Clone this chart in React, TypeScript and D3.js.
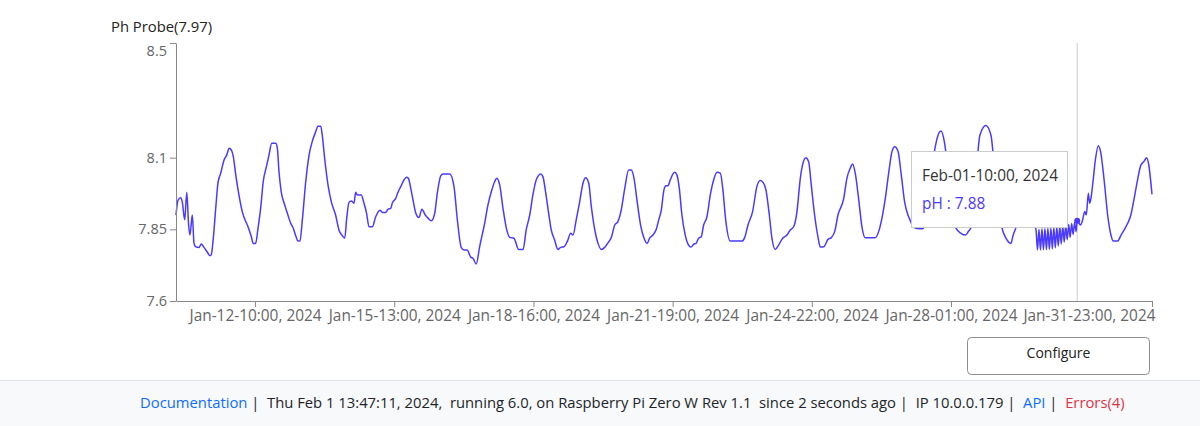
import React, { useEffect, useRef } from 'react';
import * as d3 from 'd3';

// hours since the first reading (Jan-10 ~15:30) and the pH read at that time
const readingHours = [
  0.0, 1.1, 2.5, 3.4, 4.7, 5.8, 6.8, 7.5, 8.8, 9.7, 10.6, 12.4, 13.6, 15.1, 16.9, 18.3, 19.0, 20.1, 21.4, 22.6,
  24.1, 25.9, 27.3, 28.7, 29.8, 30.9, 32.2, 33.9, 35.7, 37.6, 38.8, 40.6, 41.6, 42.9, 44.2, 45.6, 47.0, 48.9, 50.1, 51.6,
  53.7, 54.6, 55.5, 56.7, 58.6, 60.3, 61.8, 63.2, 64.7, 65.7, 66.8, 68.0, 69.9, 71.7, 73.4, 75.3, 76.5, 78.0, 78.8, 80.1,
  81.9, 83.7, 86.0, 87.8, 89.6, 90.9, 92.0, 93.2, 94.5, 95.9, 96.8, 97.7, 99.8, 101.3, 102.7, 104.0, 105.8, 107.6, 109.9, 111.2,
  113.0, 114.2, 115.7, 116.5, 118.4, 119.6, 121.1, 122.8, 124.3, 125.2, 126.5, 127.9, 129.1, 130.9, 132.5, 134.3, 135.8, 137.6, 139.4, 140.8,
  142.6, 143.9, 147.5, 149.8, 151.6, 153.7, 155.2, 156.9, 158.8, 160.0, 161.8, 163.6, 166.3, 168.1, 169.9, 171.7, 172.8, 174.4, 176.2, 178.0,
  179.8, 182.1, 184.6, 187.0, 188.7, 190.6, 192.3, 194.1, 196.5, 197.7, 199.0, 200.8, 202.2, 204.0, 205.8, 207.3, 209.1, 210.8, 212.7, 213.9,
  215.7, 217.5, 219.3, 220.7, 222.4, 223.8, 225.6, 227.4, 229.2, 231.0, 232.8, 234.6, 236.4, 238.1, 239.9, 241.8, 243.9, 245.3, 246.8, 248.5,
  250.4, 252.2, 253.9, 255.2, 257.0, 258.8, 260.1, 261.5, 262.9, 264.0, 265.1, 266.3, 268.7, 269.9, 271.2, 272.6, 274.4, 276.2, 277.5, 279.0,
  280.2, 281.6, 283.0, 284.3, 286.1, 287.9, 289.7, 291.5, 293.3, 294.6, 296.3, 298.7, 305.0, 306.4, 308.2, 310.7, 313.0, 314.8, 316.6, 317.9,
  319.7, 321.1, 322.9, 324.7, 326.9, 329.2, 331.0, 332.8, 334.6, 336.4, 337.8, 339.4, 340.9, 342.3, 344.1, 345.9, 347.2, 349.0, 351.3, 353.1,
  354.9, 356.7, 359.8, 361.5, 363.3, 364.6, 366.0, 367.9, 369.6, 371.4, 376.8, 378.6, 380.4, 382.2, 384.0, 385.8, 387.3, 389.0, 390.8, 392.6,
  394.4, 395.1, 397.1, 398.7, 402.3, 404.1, 406.3, 408.4, 409.9, 412.2, 414.0, 416.0, 418.1, 420.3, 423.0, 425.3, 427.1, 428.4, 430.5, 433.2,
  436.4, 439.1, 441.8, 445.0, 447.2, 449.9, 451.1, 452.6, 455.3, 458.0, 460.7,
  463.4, 464.2, 465.0, 465.8, 466.6, 467.4, 468.2, 469.0, 469.8, 470.6, 471.4, 472.2, 473.0, 473.8, 474.6, 475.4, 476.2, 477.0, 477.8, 478.6,
  479.4, 480.2, 481.0, 481.8, 482.6, 483.4, 484.2, 485.0, 485.6,
  487.4, 488.3, 489.7, 490.5, 491.6, 492.3, 493.0, 494.1, 495.5, 497.0, 498.2, 500.2, 502.0, 503.8, 505.0, 507.4, 509.2, 510.9, 512.8, 514.5,
  516.3, 518.1, 519.9, 521.7, 523.0, 524.1, 525.9,
];

const phValues = [
  7.900, 7.952, 7.960, 7.945, 7.883, 7.979, 7.865, 7.830, 7.900, 7.801, 7.789, 7.787, 7.799, 7.787, 7.770, 7.758, 7.761, 7.819, 7.923, 8.011,
  8.046, 8.092, 8.109, 8.133, 8.127, 8.103, 8.040, 7.970, 7.912, 7.877, 7.859, 7.824, 7.801, 7.801, 7.854, 7.923, 8.016, 8.074, 8.109, 8.150,
  8.150, 8.133, 8.051, 7.981, 7.935, 7.900, 7.871, 7.854, 7.824, 7.809, 7.809, 7.877, 8.016, 8.109, 8.156, 8.191, 8.210, 8.210, 8.179, 8.098,
  8.005, 7.946, 7.900, 7.848, 7.828, 7.819, 7.889, 7.944, 7.949, 7.941, 7.979, 7.970, 7.970, 7.941, 7.906, 7.859, 7.859, 7.894, 7.917, 7.909,
  7.909, 7.920, 7.923, 7.941, 7.958, 7.979, 7.999, 8.022, 8.032, 8.028, 7.993, 7.946, 7.909, 7.891, 7.920, 7.900, 7.889, 7.880, 7.906, 7.976,
  8.036, 8.043, 8.043, 7.999, 7.883, 7.787, 7.778, 7.778, 7.753, 7.749, 7.729, 7.789, 7.871, 7.935, 7.981, 8.016, 8.028, 8.005, 7.923, 7.854,
  7.822, 7.819, 7.780, 7.780, 7.848, 7.900, 7.970, 8.022, 8.043, 8.034, 7.987, 7.906, 7.848, 7.813, 7.780, 7.787, 7.789, 7.807, 7.836, 7.830,
  7.885, 7.946, 8.011, 8.030, 8.011, 7.929, 7.850, 7.801, 7.780, 7.787, 7.803, 7.822, 7.865, 7.877, 7.917, 7.993, 8.057, 8.057, 8.028, 7.946,
  7.862, 7.819, 7.801, 7.819, 7.830, 7.850, 7.883, 7.917, 7.987, 8.002, 8.002, 8.022, 8.049, 8.040, 7.993, 7.900, 7.830, 7.795, 7.788, 7.798,
  7.801, 7.819, 7.824, 7.865, 7.894, 7.970, 8.022, 8.049, 8.046, 7.993, 7.877, 7.809, 7.809, 7.821, 7.865, 7.912, 7.999, 8.020, 8.011, 7.987,
  7.900, 7.819, 7.780, 7.795, 7.819, 7.830, 7.848, 7.859, 7.912, 8.028, 8.080, 8.100, 8.086, 8.005, 7.900, 7.824, 7.788, 7.789, 7.815, 7.821,
  7.842, 7.900, 7.958, 8.028, 8.063, 8.078, 8.046, 7.952, 7.859, 7.821, 7.821, 7.842, 7.889, 7.958, 8.046, 8.121, 8.138, 8.123, 8.040, 7.946,
  7.900, 7.889, 7.860, 7.854, 7.852, 7.880, 7.980, 8.110, 8.162, 8.193, 8.156, 8.050, 7.900, 7.854, 7.836, 7.830, 7.844, 7.856, 7.990, 8.179,
  8.212, 8.179, 8.000, 7.856, 7.819, 7.801, 7.830, 7.856, 7.920, 7.950, 7.900,
  7.848, 7.778, 7.850, 7.778, 7.852, 7.779, 7.853, 7.779, 7.854, 7.780, 7.855, 7.782, 7.856, 7.786, 7.858, 7.792, 7.860, 7.799, 7.862, 7.806,
  7.864, 7.814, 7.867, 7.822, 7.870, 7.832, 7.874, 7.842, 7.880,
  7.865, 7.877, 7.912, 7.900, 7.976, 7.941, 7.958, 8.016, 8.098, 8.142, 8.121, 8.016, 7.900, 7.830, 7.809, 7.809, 7.830, 7.848, 7.871, 7.900,
  7.958, 8.022, 8.074, 8.088, 8.100, 8.077, 7.972,
];

const yTickValues = [7.6, 7.85, 8.1, 8.5];
const xTickHours = [42.6, 117.6, 192.6, 267.6, 342.6, 417.6, 525.9];
const xTickLabels = [
  'Jan-12-10:00, 2024',
  'Jan-15-13:00, 2024',
  'Jan-18-16:00, 2024',
  'Jan-21-19:00, 2024',
  'Jan-24-22:00, 2024',
  'Jan-28-01:00, 2024',
  'Jan-31-23:00, 2024',
];

const hoverHour = 485.6;
const hoverValue = 7.88;
const hoverLabel = 'Feb-01-10:00, 2024';

const FONT = '"Open Sans", "Noto Sans", sans-serif';
const LINE_COLOR = '#4a3aff';

export default function App() {
  const xAxisRef = useRef<SVGGElement>(null);
  const yAxisRef = useRef<SVGGElement>(null);

  const x = d3.scaleLinear().domain([0, 525.9]).range([176, 1152]);
  const y = d3.scaleLinear().domain([7.6, 8.5]).range([301, 43]);

  const points = readingHours.map((h, i) => [h, phValues[i]] as [number, number]);
  const line = d3.line<[number, number]>()
    .x(d => x(d[0]))
    .y(d => y(d[1]))
    .curve(d3.curveMonotoneX);

  useEffect(() => {
    const xAxis = d3.axisBottom(x)
      .tickValues(xTickHours)
      .tickSizeOuter(0)
      .tickFormat((d, i) => xTickLabels[i]);
    const gx = d3.select(xAxisRef.current!);
    gx.call(xAxis);
    gx.select('.domain').attr('stroke', '#888');
    gx.selectAll('.tick line').attr('stroke', '#888');
    gx.selectAll('.tick text')
      .attr('fill', '#666')
      .style('font-size', '15.4px')
      .style('font-family', FONT);
    gx.selectAll<SVGTextElement, number>('.tick text')
      .filter((d, i) => i === xTickHours.length - 1)
      .attr('text-anchor', 'end')
      .attr('x', 3);

    const yAxis = d3.axisLeft(y).tickValues(yTickValues).tickSizeOuter(0).tickFormat(d => String(d));
    const gy = d3.select(yAxisRef.current!);
    gy.call(yAxis);
    gy.select('.domain').attr('stroke', '#888');
    gy.selectAll('.tick line').attr('stroke', '#888');
    gy.selectAll('.tick text')
      .attr('fill', '#666')
      .style('font-size', '14.5px')
      .style('font-family', FONT);
    gy.selectAll<SVGTextElement, number>('.tick text')
      .filter(d => d === 8.5)
      .attr('dy', '0.88em');
  }, []);

  const hx = x(hoverHour);
  const hy = y(hoverValue);

  return (
    <svg width={1200} height={426} style={{ position: 'absolute', left: 0, top: 0, fontFamily: FONT }}>
      <rect width={1200} height={426} fill="#fff" />
      <text x={111} y={32} fontSize={14.8} fill="#222">Ph Probe(7.97)</text>

      <line x1={hx} x2={hx} y1={43} y2={301} stroke="#ccc" />
      <path d={line(points) || ''} fill="none" stroke={LINE_COLOR} strokeWidth={1.5} />
      <circle cx={hx} cy={hy} r={3} fill={LINE_COLOR} />

      <g ref={xAxisRef} transform="translate(0,301)" />
      <g ref={yAxisRef} transform="translate(176,0)" />

      <g>
        <rect x={911.5} y={151.5} width={156} height={76} fill="#fff" stroke="#ccc" />
        <text x={922} y={181} fontSize={15.4} fill="#333">{hoverLabel}</text>
        <text x={922} y={209} fontSize={15.4} fill={LINE_COLOR}>{`pH : ${hoverValue.toFixed(2)}`}</text>
      </g>

      <g>
        <rect x={967.5} y={337.5} width={182} height={37} rx={4} fill="#fff" stroke="#8c8c8c" />
        <text x={1058.5} y={358} fontSize={14} fill="#222" textAnchor="middle">Configure</text>
      </g>

      <rect x={0} y={380} width={1200} height={46} fill="#f8f9fa" />
      <line x1={0} x2={1200} y1={380.5} y2={380.5} stroke="#dee2e6" />
      <text x={140} y={408} fontSize={14.8} fill="#212529" style={{ whiteSpace: 'pre' }}>
        <tspan fill="#0d6efd">Documentation</tspan>
        <tspan>{' |  Thu Feb 1 13:47:11, 2024,  running 6.0, on Raspberry Pi Zero W Rev 1.1  since 2 seconds ago |  IP 10.0.0.179 |  '}</tspan>
        <tspan fill="#0d6efd">API</tspan>
        <tspan>{' |  '}</tspan>
        <tspan fill="#dc3545">Errors(4)</tspan>
      </text>
    </svg>
  );
}
